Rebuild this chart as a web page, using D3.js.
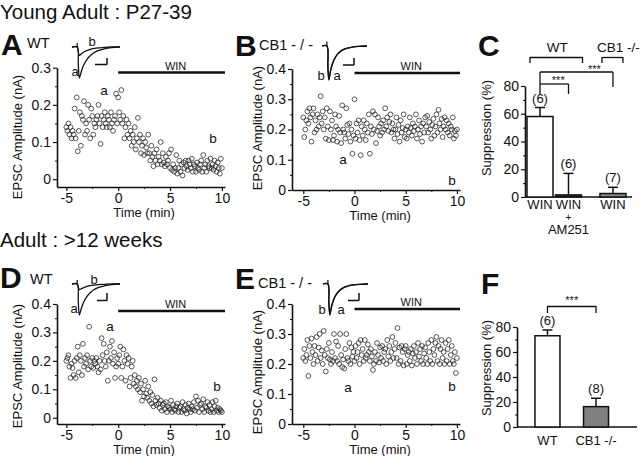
<!DOCTYPE html>
<html><head><meta charset="utf-8">
<script src="https://cdn.jsdelivr.net/npm/d3@7"></script>
<style>body{margin:0;background:#fff} text{font-family:"Liberation Sans",Arial,sans-serif}</style>
</head><body><svg id="c" width="640" height="456" style="background:#fff"></svg>
<script>
// ---------------- DATA ----------------
const timeStart = -5, timeStep = 0.1; // sampling: one EPSC every 6 s
const xTicks = [-5, 0, 5, 10];
const xMinorTicks = [-2.5, 2.5, 7.5];
const winStart = 0, winEnd = 10.3;

const youngWT = [
0.14,0.13,0.15,0.12,0.14,0.11,0.13,0.12,0.19,0.11,
0.22,0.075,0.13,0.18,0.09,0.17,0.16,0.21,0.12,0.15,
0.13,0.2,0.16,0.11,0.19,0.17,0.12,0.15,0.14,0.16,
0.17,0.2,0.15,0.095,0.17,0.14,0.16,0.18,0.15,0.14,
0.17,0.16,0.14,0.18,0.15,0.13,0.16,0.17,0.23,0.15,
0.22,0.18,0.16,0.24,0.15,0.17,0.11,0.14,0.16,0.12,
0.15,0.11,0.13,0.09,0.12,0.1,0.14,0.08,0.11,0.165,
0.1,0.12,0.07,0.09,0.11,0.065,0.1,0.085,0.07,0.12,
0.07,0.05,0.09,0.06,0.035,0.07,0.05,0.08,0.04,0.06,
0.05,0.1,0.04,0.07,0.045,0.035,0.06,0.04,0.05,0.07,
0.03,0.08,0.025,0.04,0.02,0.03,0.065,0.015,0.03,0.05,
0.02,0.04,0.01,0.045,0.03,0.05,0.035,0.025,0.05,0.04,
0.03,0.055,0.02,0.04,0.035,0.02,0.045,0.03,0.025,0.04,
0.05,0.02,0.065,0.03,0.04,0.02,0.05,0.035,0.03,0.055,
0.03,0.04,0.025,0.05,0.035,0.02,0.045,0.03,0.015,0.055,
0.03];

const youngCB1 = [
0.24,0.175,0.2,0.23,0.26,0.22,0.27,0.24,0.16,0.25,
0.27,0.19,0.23,0.2,0.25,0.21,0.24,0.31,0.22,0.26,
0.2,0.24,0.17,0.27,0.21,0.165,0.26,0.2,0.23,0.165,
0.18,0.25,0.21,0.16,0.2,0.245,0.19,0.155,0.28,0.2,
0.19,0.17,0.27,0.215,0.185,0.22,0.16,0.2,0.12,0.18,
0.3,0.17,0.22,0.19,0.23,0.165,0.115,0.21,0.18,0.23,
0.2,0.165,0.22,0.19,0.25,0.12,0.21,0.185,0.26,0.2,
0.25,0.155,0.195,0.24,0.21,0.18,0.22,0.19,0.23,0.2,
0.27,0.21,0.24,0.195,0.225,0.25,0.19,0.22,0.2,0.17,
0.2,0.24,0.185,0.215,0.16,0.23,0.19,0.205,0.25,0.175,
0.2,0.17,0.21,0.19,0.24,0.205,0.18,0.22,0.195,0.21,
0.25,0.17,0.2,0.23,0.185,0.21,0.16,0.22,0.19,0.24,
0.21,0.245,0.19,0.225,0.2,0.17,0.215,0.235,0.18,0.21,
0.25,0.19,0.265,0.22,0.2,0.235,0.175,0.21,0.24,0.2,
0.23,0.19,0.22,0.18,0.21,0.2,0.24,0.17,0.195,0.18,
0.2];

const adultWT = [
0.2,0.21,0.22,0.18,0.14,0.19,0.175,0.15,0.2,0.14,
0.21,0.25,0.16,0.22,0.2,0.15,0.26,0.18,0.21,0.19,
0.22,0.17,0.32,0.2,0.18,0.21,0.175,0.2,0.19,0.21,
0.18,0.16,0.2,0.17,0.28,0.22,0.26,0.2,0.18,0.23,
0.13,0.2,0.25,0.21,0.27,0.19,0.23,0.14,0.18,0.21,
0.19,0.22,0.25,0.14,0.18,0.24,0.2,0.13,0.22,0.19,
0.21,0.11,0.14,0.18,0.2,0.12,0.15,0.11,0.13,0.1,
0.14,0.09,0.12,0.06,0.1,0.075,0.13,0.085,0.07,0.11,
0.06,0.09,0.05,0.08,0.04,0.135,0.06,0.045,0.07,0.05,
0.035,0.06,0.025,0.045,0.05,0.03,0.055,0.02,0.04,0.035,
0.03,0.06,0.02,0.045,0.03,0.025,0.04,0.05,0.02,0.035,
0.04,0.02,0.055,0.03,0.025,0.045,0.015,0.035,0.05,0.03,
0.02,0.04,0.03,0.055,0.025,0.075,0.035,0.06,0.02,0.045,
0.05,0.03,0.065,0.02,0.04,0.035,0.055,0.025,0.045,0.02,
0.03,0.055,0.02,0.04,0.06,0.025,0.035,0.02,0.03,0.025,
0.02];

const adultCB1 = [
0.22,0.25,0.21,0.23,0.28,0.16,0.26,0.22,0.285,0.24,
0.2,0.26,0.23,0.29,0.21,0.255,0.3,0.22,0.245,0.2,
0.31,0.23,0.175,0.25,0.22,0.27,0.215,0.2,0.24,0.21,
0.3,0.22,0.275,0.21,0.26,0.2,0.3,0.23,0.19,0.215,
0.185,0.25,0.3,0.22,0.21,0.27,0.2,0.255,0.225,0.24,
0.21,0.26,0.22,0.24,0.27,0.2,0.28,0.23,0.25,0.21,
0.28,0.22,0.23,0.265,0.24,0.21,0.25,0.225,0.18,0.2,
0.24,0.21,0.27,0.23,0.205,0.255,0.22,0.26,0.21,0.24,
0.25,0.2,0.28,0.225,0.26,0.21,0.24,0.29,0.22,0.25,
0.27,0.22,0.32,0.2,0.255,0.21,0.26,0.24,0.195,0.25,
0.26,0.2,0.23,0.24,0.21,0.25,0.195,0.235,0.26,0.22,
0.24,0.2,0.27,0.225,0.25,0.21,0.26,0.2,0.235,0.255,
0.22,0.2,0.27,0.24,0.21,0.28,0.2,0.25,0.23,0.27,
0.29,0.21,0.26,0.2,0.25,0.28,0.22,0.24,0.2,0.27,
0.21,0.25,0.28,0.2,0.23,0.26,0.21,0.2,0.24,0.17,
0.22];

// sample EPSC traces (ms, normalised amplitude)
const traceTime = [0, 5, 6, 7, 8, 9, 11, 13, 16, 20, 25, 31, 38, 46];
const traceYoungWT_a = [0,0,-0.55,-1,-0.9,-0.78,-0.6,-0.47,-0.33,-0.21,-0.12,-0.06,-0.02,0];
const traceYoungWT_b = [0,0,-0.15,-0.27,-0.25,-0.22,-0.17,-0.13,-0.09,-0.05,-0.03,-0.01,0,0];
const traceAdultWT_a = [0,0,-0.55,-1,-0.9,-0.78,-0.6,-0.47,-0.33,-0.21,-0.12,-0.06,-0.02,0];
const traceAdultWT_b = [0,0,-0.1,-0.18,-0.17,-0.15,-0.12,-0.09,-0.06,-0.04,-0.02,-0.01,0,0];
const traceCB1_a = [0,0,-0.6,-1,-0.85,-0.7,-0.5,-0.37,-0.24,-0.14,-0.07,-0.03,-0.01,0];
const traceCB1_b = [0,0,-0.6,-0.98,-0.84,-0.69,-0.49,-0.36,-0.23,-0.13,-0.07,-0.03,-0.01,0];
const stimTime = 5;

// bar panels
const cCategories = ["WIN", "WIN+AM251", "WIN"];
const cGroups = ["WT", "WT", "CB1 -/-"];
const cValues = [58, 1.5, 2.5];
const cErrors = [6.5, 15.5, 4.5];
const cN = ["(6)", "(6)", "(7)"];
const fCategories = ["WT", "CB1 -/-"];
const fValues = [73, 16.3];
const fErrors = [4.6, 6.7];
const fN = ["(6)", "(8)"];
const suppTicks = [0, 20, 40, 60, 80];
const suppMinor = [10, 30, 50, 70];

// ---------------- DRAW ----------------
const FONT = "'Liberation Sans', Arial, sans-serif";
const svg = d3.select("#c");
const timeOf = i => timeStart + i * timeStep;

function text(x, y, s, size, o = {}) {
  const t = svg.append("text").attr("x", x).attr("y", y).text(s)
    .attr("font-family", FONT).attr("font-size", size).attr("fill", "#111")
    .attr("text-anchor", o.anchor || "start");
  if (o.bold) t.attr("font-weight", "bold");
  if (o.rotate) t.attr("transform", `rotate(-90,${x},${y})`);
  return t;
}
function line(x1, y1, x2, y2, w = 1.5) {
  svg.append("line").attr("x1", x1).attr("y1", y1).attr("x2", x2).attr("y2", y2)
    .attr("stroke", "#111").attr("stroke-width", w);
}
function styleAxis(sel) {
  sel.select(".domain").attr("stroke", "#111").attr("stroke-width", 1.6);
  sel.selectAll(".tick line").attr("stroke", "#111").attr("stroke-width", 1.2);
  sel.selectAll("text").attr("font-family", FONT).attr("font-size", 14).attr("fill", "#111");
}

function scatterPanel(p) {
  const x = d3.scaleLinear().domain(p.xDom).range(p.xRange);
  const y = d3.scaleLinear().domain(p.yDom).range(p.yRange);
  const xa = svg.append("g").attr("transform", `translate(0,${p.yRange[0]})`)
    .call(d3.axisBottom(x).tickValues(xTicks).tickSize(4).tickPadding(2).tickSizeOuter(0).tickFormat(d => String(d)));
  styleAxis(xa);
  const xm = svg.append("g").attr("transform", `translate(0,${p.yRange[0]})`)
    .call(d3.axisBottom(x).tickValues(xMinorTicks).tickSize(2).tickFormat(""));
  xm.select(".domain").remove(); xm.selectAll("line").attr("stroke", "#111");
  const ya = svg.append("g").attr("transform", `translate(${p.xRange[0]},0)`)
    .call(d3.axisLeft(y).tickValues(p.yTicks).tickSize(4).tickPadding(2).tickSizeOuter(0)
      .tickFormat(d => d === 0 ? "0" : d.toFixed(1)));
  styleAxis(ya);
  const ym = svg.append("g").attr("transform", `translate(${p.xRange[0]},0)`)
    .call(d3.axisLeft(y).tickValues(p.yMinor).tickSize(2).tickFormat(""));
  ym.select(".domain").remove(); ym.selectAll("line").attr("stroke", "#111");

  svg.append("g").selectAll("circle").data(p.values).join("circle")
    .attr("cx", (d, i) => x(timeOf(i))).attr("cy", d => y(d)).attr("r", 2.4)
    .attr("fill", "none").attr("stroke", "#222").attr("stroke-width", 0.75);

  // WIN bar
  line(x(winStart), p.winY, x(winEnd), p.winY, 2.6);
  text((x(winStart) + x(winEnd)) / 2 + 4, p.winY - 3, "WIN", 11, { anchor: "middle" });

  // titles
  text((x(-5) + x(10)) / 2, p.yRange[0] + 30, "Time (min)", 13, { anchor: "middle" });
  text(p.yLabelX, p.yLabelY, "EPSC Amplitude (nA)", 13, { anchor: "middle", rotate: true });
  // point labels
  p.labels.forEach(l => text(l[0], l[1], l[2], 13.5, { anchor: "middle" }));

  // inset traces
  const tx = d3.scaleLinear().domain([0, 46]).range(p.inset.x);
  const ty = d3.scaleLinear().domain([-1, 0]).range(p.inset.y);
  const ln = d3.line().x((d, i) => tx(traceTime[i])).y(d => ty(d)).curve(d3.curveCatmullRom.alpha(0.5));
  p.inset.traces.forEach(tr => svg.append("path").attr("d", ln(tr)).attr("fill", "none")
    .attr("stroke", "#111").attr("stroke-width", 1.3));
  line(tx(stimTime), ty(0), tx(stimTime), ty(0.13), 1.2);
  // scale bar
  const sb = p.inset.bar;
  line(sb[0], sb[2], sb[1], sb[2], 1.5);
  line(sb[1], sb[2], sb[1], sb[3], 1.5);
  p.inset.labels.forEach(l => text(l[0], l[1], l[2], 13, { anchor: "middle" }));
}

// section titles
text(0, 18.5, "Young Adult : P27-39", 20.5);
text(0, 247, "Adult : >12 weeks", 20.5);

// panel letters
text(1, 55, "A", 30, { bold: true }); text(27, 48, "WT", 14.5);
text(235, 56, "B", 30, { bold: true }); text(259, 50, "CB1 - / -", 14.5);
text(478, 56, "C", 30, { bold: true });
text(0, 288, "D", 30, { bold: true }); text(30, 284, "WT", 14.5);
text(235, 289, "E", 30, { bold: true }); text(258, 288, "CB1 - / -", 14.5);
text(481, 294, "F", 30, { bold: true });

scatterPanel({ values: youngWT, xDom: [-5.9, 10.3], xRange: [57, 225], yDom: [-0.021, 0.3], yRange: [187, 67.7],
  yTicks: [0, 0.1, 0.2, 0.3], yMinor: [0.05, 0.15, 0.25], winY: 72.5, yLabelX: 22, yLabelY: 137,
  labels: [[104, 95, "a"], [213, 143, "b"]],
  inset: { x: [72, 120], y: [78, 47], traces: [traceYoungWT_a, traceYoungWT_b], bar: [95, 107, 64.5, 58],
    labels: [[75, 76, "a"], [92, 46, "b"]] } });

scatterPanel({ values: youngCB1, xDom: [-6.1, 10.3], xRange: [292, 460], yDom: [0, 0.4], yRange: [190, 69],
  yTicks: [0, 0.1, 0.2, 0.3, 0.4], yMinor: [0.05, 0.15, 0.25, 0.35], winY: 73, yLabelX: 262, yLabelY: 128,
  labels: [[343, 164, "a"], [452, 185, "b"]],
  inset: { x: [322, 367], y: [80, 46], traces: [traceCB1_a, traceCB1_b], bar: [343, 354, 65, 58],
    labels: [[321, 80, "b"], [337, 80, "a"]] } });

scatterPanel({ values: adultWT, xDom: [-5.9, 10.3], xRange: [57, 225], yDom: [-0.022, 0.4], yRange: [424, 304],
  yTicks: [0, 0.1, 0.2, 0.3, 0.4], yMinor: [0.05, 0.15, 0.25, 0.35], winY: 311, yLabelX: 22, yLabelY: 366,
  labels: [[110, 331, "a"], [217, 391, "b"]],
  inset: { x: [72, 120], y: [315, 284], traces: [traceAdultWT_a, traceAdultWT_b], bar: [97, 107, 300.5, 293],
    labels: [[74, 313, "a"], [94, 284, "b"]] } });

scatterPanel({ values: adultCB1, xDom: [-6.1, 10.3], xRange: [292, 460], yDom: [0, 0.4], yRange: [424, 304],
  yTicks: [0, 0.1, 0.2, 0.3, 0.4], yMinor: [0.05, 0.15, 0.25, 0.35], winY: 309, yLabelX: 262, yLabelY: 372,
  labels: [[348, 392, "a"], [452, 391, "b"]],
  inset: { x: [323, 368], y: [315, 284], traces: [traceCB1_a, traceCB1_b], bar: [348, 359, 300.5, 293],
    labels: [[322, 314, "b"], [341, 314, "a"]] } });

// ---- bar panel helper ----
function barAxes(y, x0, x1, y0) {
  const ya = svg.append("g").attr("transform", `translate(${x0},0)`)
    .call(d3.axisLeft(y).tickValues(suppTicks).tickSize(4).tickPadding(2).tickSizeOuter(0));
  styleAxis(ya);
  const ym = svg.append("g").attr("transform", `translate(${x0},0)`)
    .call(d3.axisLeft(y).tickValues(suppMinor).tickSize(2).tickFormat(""));
  ym.select(".domain").remove(); ym.selectAll("line").attr("stroke", "#111");
  line(x0, y0, x1, y0, 1.6);
}
function bars(xs, w, y, vals, errs, fills, ns) {
  vals.forEach((v, i) => {
    const cx = xs[i];
    line(cx, y(v), cx, y(v + errs[i]), 1.5);
    line(cx - 5, y(v + errs[i]), cx + 5, y(v + errs[i]), 1.5);
    svg.append("rect").attr("x", cx - w / 2).attr("y", y(v)).attr("width", w).attr("height", y(0) - y(v))
      .attr("fill", fills[i]).attr("stroke", "#111").attr("stroke-width", 1.5);
    text(cx, y(v + errs[i]) - 5, ns[i], 13, { anchor: "middle" });
  });
}

// ---- Panel C ----
{
  const y = d3.scaleLinear().domain([0, 80]).range([197, 86]);
  const groupGap = 0.56;
  const slot = d3.scaleLinear().domain([0, 1]).range([540, 568.5]);
  const xs = cCategories.map((c, i) => slot(i + (cGroups[i] === "CB1 -/-" ? groupGap : 0)));
  barAxes(y, 525, 632, 197);
  bars(xs, 26, y, cValues, cErrors, ["#fff", "#333", "#8a8a8a"], cN);
  // category labels
  text(xs[0], 209, "WIN", 13, { anchor: "middle" });
  text(xs[1], 209, "WIN", 13, { anchor: "middle" });
  text(xs[1], 221, "+", 10, { anchor: "middle" });
  text(xs[1], 234, "AM251", 13, { anchor: "middle" });
  text(xs[2], 209, "WIN", 13, { anchor: "middle" });
  text(491, 128, "Suppression (%)", 13, { anchor: "middle", rotate: true });
  // group brackets
  line(xs[0] - 10, 57.5, xs[1] + 14, 57.5, 1.3);
  line(xs[0] - 10, 57, xs[0] - 10, 63, 1.3); line(xs[1] + 14, 57, xs[1] + 14, 63, 1.3);
  text((xs[0] + xs[1]) / 2 + 3, 52, "WT", 13.5, { anchor: "middle" });
  line(xs[2] - 11, 57.5, xs[2] + 10, 57.5, 1.3);
  line(xs[2] - 11, 57, xs[2] - 11, 63, 1.3); line(xs[2] + 10, 57, xs[2] + 10, 63, 1.3);
  text(597, 52, "CB1 -/-", 13.5);
  // significance
  line(xs[0], 72, xs[2], 72, 1.3); line(xs[0], 72, xs[0], 94, 1.3); line(xs[2], 72, xs[2], 87, 1.3);
  text((xs[0] + xs[2]) / 2 + 18, 73, "***", 11, { anchor: "middle" });
  line(xs[0], 84, xs[1], 84, 1.3); line(xs[1], 84, xs[1], 94, 1.3);
  text((xs[0] + xs[1]) / 2 + 4, 84, "***", 11, { anchor: "middle" });
}

// ---- Panel F ----
{
  const y = d3.scaleLinear().domain([0, 80]).range([427, 327]);
  const x = d3.scaleBand().domain(fCategories).range([517, 626.5]).paddingInner(0.485).paddingOuter(0.37);
  const xs = fCategories.map(c => x(c) + x.bandwidth() / 2);
  barAxes(y, 517, 637, 427);
  bars(xs, x.bandwidth(), y, fValues, fErrors, ["#fff", "#808080"], fN);
  fCategories.forEach((c, i) => text(xs[i], 445, c, 13, { anchor: "middle" }));
  text(491, 368, "Suppression (%)", 13, { anchor: "middle", rotate: true });
  line(xs[0], 306.5, xs[1], 306.5, 1.3);
  line(xs[0], 306, xs[0], 313, 1.3); line(xs[1], 306, xs[1], 313, 1.3);
  text((xs[0] + xs[1]) / 2, 304, "***", 11, { anchor: "middle" });
}
</script></body></html>
